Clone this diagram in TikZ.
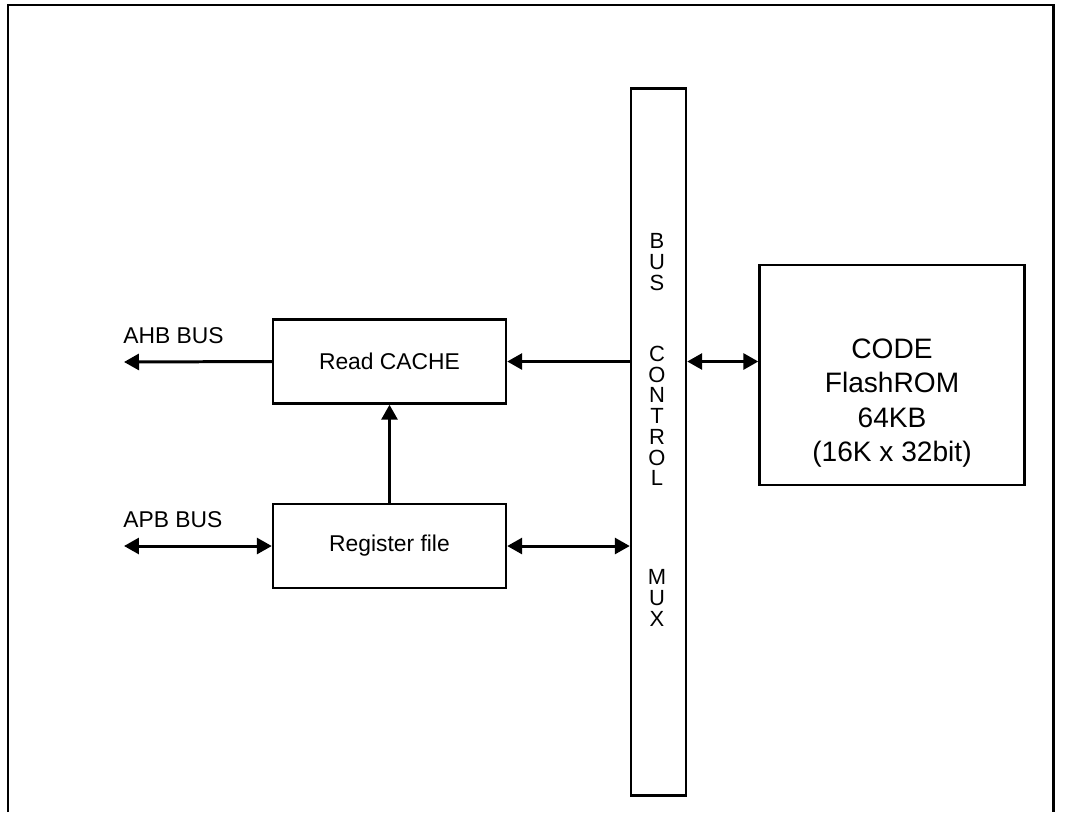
\documentclass[tikz,border=0pt]{standalone}
\usepackage{fontspec}
\setmainfont{Liberation Sans}
\usetikzlibrary{positioning,arrows.meta}
\tikzset{
    flashdiag/.style={
        x=0.02cm, y=-0.02cm,
        font=\fontsize{13}{15.6}\selectfont,
        % blocchi funzionali (rettangolo)
        block/.style={draw, line width=1.4pt, rectangle, align=center,
                      minimum width=4.66cm, minimum height=1.68cm,
                      inner sep=0pt},
        % barra verticale del bus
        busbar/.style={draw, line width=1.4pt, rectangle,
                       minimum width=1.1cm, minimum height=14.14cm,
                       inner sep=0pt},
        % testo impilato nella barra
        stack/.style={align=center, inner sep=0pt,
                      font=\fontsize{12.5}{11.8}\selectfont},
        % collegamenti
        link/.style={line width=1.7pt, -{Triangle[length=0.3cm,width=0.32cm]}},
        biglink/.style={line width=1.7pt,
                        {Triangle[length=0.3cm,width=0.32cm]}-{Triangle[length=0.3cm,width=0.32cm]}}
    }
}
\begin{document}
\begin{tikzpicture}[flashdiag]
    \useasboundingbox (0,0) rectangle (1067,812);
    \draw[line width=1.7pt] (8,812) -- (8,5) -- (1053,5) -- (1053,812);

    \node[block] (cache) at (389.5,361.5) {Read CACHE};
    \node[block] (regs) at (389.5,546) {Register file};
    \node[busbar] (mux) at (658.5,442) {};
    \node[block, minimum width=5.3cm, minimum height=4.4cm] (flash) at (892,375) {};
    \node[align=center, inner sep=0pt, font=\fontsize{16}{19.6}\selectfont]
          (flashlbl) at (892,403) {CODE\\FlashROM\\64KB\\(16K x 32bit)};

    \node[stack] (bus) at (657,262) {B\\U\\S};
    \node[stack] (control) at (657,416) {C\\O\\N\\T\\R\\O\\L};
    \node[stack] (muxlbl) at (657,598) {M\\U\\X};

    \coordinate (ahb) at (124,362);
    \coordinate (apb) at (124,546);
    \node[anchor=west, inner sep=0pt] (ahblbl) at (123,336) {AHB BUS};
    \node[anchor=west, inner sep=0pt] (apblbl) at (123,520) {APB BUS};

    \draw[link] (cache.west) -- (ahb);
    \draw[biglink] (apb) -- (regs.west);
    \draw[link] (mux.west |- cache) -- (cache.east);
    \draw[biglink] (regs.east) -- (mux.west |- regs);
    \draw[biglink] (mux.east |- cache) -- (flash.west |- cache);
    \draw[link] (regs.north) -- (cache.south);
\end{tikzpicture}
\end{document}
